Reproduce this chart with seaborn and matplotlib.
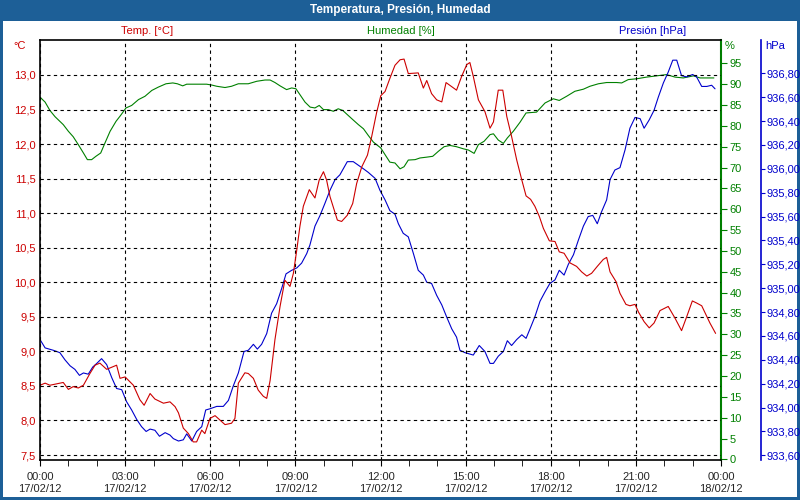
import matplotlib
matplotlib.use("Agg")
import matplotlib.pyplot as plt
import seaborn as sns
from matplotlib.patches import Rectangle
from matplotlib.ticker import FuncFormatter, MultipleLocator

# hours since 17/02/12 00:00
temp_h = [0.00, 0.18, 0.35, 0.59, 0.82, 1.00, 1.17, 1.35, 1.53, 1.76, 1.94, 2.11, 2.35, 2.70, 2.82,
          3.00, 3.29, 3.52, 3.67, 3.88, 4.05, 4.35, 4.58, 4.76, 4.88, 5.05, 5.23, 5.40, 5.52, 5.70,
          5.81, 5.99, 6.17, 6.52, 6.75, 6.87, 6.99, 7.22, 7.34, 7.52, 7.69, 7.87, 7.99, 8.11, 8.28,
          8.46, 8.63, 8.81, 8.93, 9.05, 9.16, 9.28, 9.49, 9.69, 9.84, 9.99, 10.10, 10.22, 10.48, 10.63,
          10.83, 11.02, 11.16, 11.34, 11.54, 11.69, 11.86, 12.01, 12.16, 12.33, 12.51, 12.69, 12.83,
          12.98, 13.33, 13.51, 13.63, 13.80, 13.98, 14.16, 14.31, 14.51, 14.68, 14.86, 15.04, 15.15,
          15.27, 15.45, 15.68, 15.86, 15.98, 16.15, 16.31, 16.45, 16.62, 16.80, 16.98, 17.13, 17.29,
          17.44, 17.60, 17.74, 17.95, 18.15, 18.30, 18.47, 18.68, 18.91, 19.09, 19.27, 19.44, 19.64,
          19.85, 19.97, 20.09, 20.30, 20.44, 20.65, 20.79, 20.97, 21.09, 21.29, 21.47, 21.64, 21.85,
          22.14, 22.38, 22.61, 22.79, 22.99, 23.14, 23.32, 23.61, 23.81]
temp_c = [8.51, 8.54, 8.51, 8.53, 8.55, 8.45, 8.49, 8.47, 8.51, 8.68, 8.80, 8.83, 8.74, 8.80, 8.61,
          8.63, 8.51, 8.30, 8.22, 8.39, 8.31, 8.25, 8.27, 8.20, 8.11, 7.89, 7.81, 7.69, 7.69, 7.86,
          7.81, 8.03, 8.07, 7.94, 7.96, 8.03, 8.54, 8.69, 8.68, 8.61, 8.44, 8.35, 8.32, 8.58, 9.17,
          9.65, 10.03, 9.94, 10.13, 10.47, 10.81, 11.10, 11.34, 11.22, 11.48, 11.60, 11.48, 11.24, 10.90, 10.88,
          10.97, 11.14, 11.43, 11.67, 11.84, 12.11, 12.45, 12.70, 12.76, 12.95, 13.14, 13.22, 13.23,
          13.02, 13.03, 12.81, 12.92, 12.73, 12.64, 12.61, 12.89, 12.83, 12.78, 12.98, 13.15, 13.18,
          12.98, 12.64, 12.47, 12.23, 12.32, 12.78, 12.78, 12.40, 12.11, 11.77, 11.48, 11.25, 11.20,
          11.10, 10.95, 10.78, 10.60, 10.59, 10.44, 10.42, 10.28, 10.23, 10.15, 10.09, 10.13, 10.23,
          10.33, 10.36, 10.15, 10.01, 9.84, 9.68, 9.66, 9.68, 9.57, 9.43, 9.34, 9.41, 9.59,
          9.65, 9.48, 9.30, 9.50, 9.73, 9.70, 9.66, 9.41, 9.26]

pres_h = [0.00, 0.18, 0.47, 0.70, 0.88, 1.06, 1.23, 1.39, 1.53, 1.70, 1.86, 2.00, 2.17, 2.35, 2.53,
          2.70, 2.88, 3.05, 3.23, 3.41, 3.58, 3.74, 3.88, 4.05, 4.21, 4.41, 4.58, 4.70, 4.88, 5.05,
          5.17, 5.35, 5.52, 5.70, 5.84, 5.99, 6.23, 6.46, 6.64, 6.81, 6.99, 7.19, 7.34, 7.52, 7.66,
          7.81, 7.99, 8.16, 8.34, 8.52, 8.67, 8.87, 9.05, 9.22, 9.40, 9.51, 9.69, 9.87, 10.04, 10.22,
          10.40, 10.57, 10.69, 10.83, 11.04, 11.22, 11.40, 11.57, 11.81, 11.98, 12.16, 12.33, 12.51,
          12.63, 12.80, 12.98, 13.16, 13.33, 13.51, 13.63, 13.80, 13.98, 14.16, 14.33, 14.51, 14.68,
          14.80, 14.98, 15.27, 15.48, 15.68, 15.86, 15.98, 16.15, 16.33, 16.47, 16.62, 16.80, 16.98,
          17.13, 17.27, 17.44, 17.62, 17.80, 17.97, 18.15, 18.30, 18.47, 18.62, 18.80, 18.97, 19.15,
          19.32, 19.48, 19.64, 19.79, 19.97, 20.09, 20.26, 20.44, 20.62, 20.79, 20.97, 21.15, 21.29,
          21.47, 21.64, 21.79, 21.97, 22.14, 22.30, 22.44, 22.61, 22.79, 23.00, 23.14, 23.32, 23.50,
          23.67, 23.79]
pres_hpa = [934.57, 934.50, 934.48, 934.46, 934.40, 934.35, 934.32, 934.27, 934.29, 934.28, 934.34,
            934.37, 934.41, 934.36, 934.25, 934.16, 934.15, 934.05, 933.98, 933.90, 933.84, 933.80,
            933.82, 933.81, 933.76, 933.79, 933.77, 933.74, 933.72, 933.73, 933.78, 933.72, 933.80,
            933.84, 933.98, 933.99, 934.01, 934.01, 934.06, 934.18, 934.29, 934.47, 934.48, 934.53,
            934.49, 934.53, 934.62, 934.79, 934.87, 935.00, 935.12, 935.15, 935.17, 935.21, 935.29,
            935.36, 935.52, 935.61, 935.71, 935.82, 935.91, 935.95, 936.00, 936.06, 936.06, 936.03,
            936.00, 935.97, 935.92, 935.82, 935.74, 935.65, 935.62, 935.54, 935.46, 935.43, 935.29,
            935.15, 935.11, 935.05, 935.04, 934.94, 934.86, 934.76, 934.66, 934.59, 934.48, 934.46,
            934.44, 934.52, 934.47, 934.37, 934.37, 934.43, 934.47, 934.56, 934.52, 934.57, 934.61,
            934.58, 934.66, 934.76, 934.89, 934.97, 935.04, 935.07, 935.15, 935.11, 935.20, 935.28,
            935.40, 935.52, 935.60, 935.61, 935.54, 935.64, 935.74, 935.91, 935.99, 936.01, 936.16,
            936.34, 936.43, 936.42, 936.34, 936.41, 936.49, 936.60, 936.72, 936.81, 936.91, 936.91,
            936.78, 936.77, 936.79, 936.77, 936.69, 936.69, 936.70, 936.67]

hum_h = [0.00, 0.18, 0.35, 0.53, 0.82, 1.00, 1.17, 1.35, 1.53, 1.67, 1.82, 1.97, 2.14, 2.29, 2.47,
         2.68, 2.84, 3.03, 3.23, 3.47, 3.70, 3.94, 4.17, 4.44, 4.68, 4.84, 5.03, 5.17, 5.52, 5.87,
         6.05, 6.23, 6.52, 6.75, 6.99, 7.34, 7.64, 7.93, 8.11, 8.28, 8.46, 8.69, 8.87, 9.02, 9.16,
         9.34, 9.52, 9.69, 9.84, 9.99, 10.16, 10.34, 10.51, 10.67, 10.83, 11.04, 11.22, 11.40, 11.57,
         11.75, 12.01, 12.16, 12.33, 12.51, 12.69, 12.83, 12.98, 13.22, 13.39, 13.63, 13.84, 14.04,
         14.24, 14.45, 14.68, 14.92, 15.10, 15.30, 15.45, 15.65, 15.86, 15.98, 16.15, 16.33, 16.47,
         16.68, 16.92, 17.13, 17.50, 17.80, 18.09, 18.30, 18.56, 18.85, 19.15, 19.38, 19.68, 19.97,
         20.32, 20.50, 20.73, 21.03, 21.38, 21.73, 22.08, 22.38, 22.67, 23.03, 23.26, 23.75]
hum_pct = [86.9, 85.7, 83.7, 82.2, 80.3, 78.7, 77.4, 75.5, 73.5, 71.9, 71.9, 72.7, 73.5, 75.9, 78.7,
           81.1, 82.5, 84.3, 84.9, 86.3, 87.1, 88.5, 89.3, 90.1, 90.3, 90.1, 89.6, 90.0, 90.0, 90.0,
           89.8, 89.5, 89.2, 89.5, 90.1, 90.1, 90.7, 91.0, 91.0, 90.4, 89.6, 88.7, 89.1, 88.9, 87.5,
           85.7, 84.5, 84.3, 84.9, 83.9, 83.9, 83.5, 84.1, 83.7, 82.7, 81.4, 80.3, 79.3, 77.7,
           76.1, 74.7, 73.1, 71.3, 71.1, 69.7, 70.2, 71.8, 71.9, 72.3, 72.5, 72.7, 73.9,
           75.0, 75.3, 75.0, 74.5, 74.2, 73.4, 75.5, 76.3, 77.9, 78.1, 76.6, 75.8, 77.1,
           78.7, 80.9, 83.1, 83.3, 85.5, 86.5, 86.1, 87.1, 88.3, 88.8, 89.5, 90.1, 90.4,
           90.4, 90.3, 91.1, 91.3, 91.7, 92.0, 92.3, 91.7, 91.5, 92.0, 91.5, 91.5]

x_ticks = [0, 3, 6, 9, 12, 15, 18, 21, 24]
x_labels = ["00:00\n17/02/12", "03:00\n17/02/12", "06:00\n17/02/12", "09:00\n17/02/12",
            "12:00\n17/02/12", "15:00\n17/02/12", "18:00\n17/02/12", "21:00\n17/02/12",
            "00:00\n18/02/12"]

RED = "#cc0000"
GREEN = "#008000"
BLUE = "#0000cc"
FRAME = "#1d5f97"

sns.set_style("white")
plt.rcParams["font.family"] = ["Liberation Sans", "DejaVu Sans"]
plt.rcParams["font.size"] = 8

fig = plt.figure(figsize=(8, 5), dpi=100, facecolor=FRAME)
fig.patches.append(Rectangle((3 / 800, 3 / 500), 794 / 800, 476 / 500, transform=fig.transFigure,
                             facecolor="white", edgecolor="none", zorder=-5))
fig.text(0.5, 1 - 10 / 500, "Temperatura, Presión, Humedad", color="white", fontweight="bold",
         ha="center", va="center", fontsize=8.5)

ax = fig.add_axes([40 / 800, 40 / 500, 681 / 800, 420 / 500])
ax_h = ax.twinx()
ax_p = ax.twinx()

sns.lineplot(x=hum_h, y=hum_pct, ax=ax_h, color=GREEN, linewidth=0.8, estimator=None, sort=False)
sns.lineplot(x=pres_h, y=pres_hpa, ax=ax_p, color=BLUE, linewidth=0.8, estimator=None, sort=False)
sns.lineplot(x=temp_h, y=temp_c, ax=ax, color=RED, linewidth=0.8, estimator=None, sort=False)
ax.set_zorder(3)
ax_h.set_zorder(1)
ax_p.set_zorder(2)
ax.patch.set_visible(False)
ax_h.patch.set_visible(False)
ax_p.patch.set_visible(False)

ax.set_xlim(0, 24)
ax.set_ylim(7.428, 13.506)
ax_h.set_ylim(-0.15, 100.6)
ax_p.set_ylim(933.561, 937.079)

# temperature axis (left)
ax.set_yticks([7.5 + 0.5 * i for i in range(12)])
ax.yaxis.set_major_formatter(FuncFormatter(lambda v, p: f"{v:.1f}".replace(".", ",")))
ax.tick_params(axis="y", length=0, pad=3, labelcolor=RED, labelsize=8)
ax.set_xticks(x_ticks)
ax.set_xticklabels(x_labels)
ax.xaxis.set_minor_locator(MultipleLocator(1))
ax.tick_params(axis="x", which="both", direction="out", length=4, color="black",
               labelsize=8, pad=5, bottom=True)
ax.set_xlabel("")
ax.set_ylabel("")
ax.grid(True, which="major", axis="both", color="black", linestyle=(0, (3, 3)), linewidth=0.8)
for s in ["left", "bottom", "top"]:
    ax.spines[s].set_color("black")
    ax.spines[s].set_linewidth(1.2)
ax.spines["right"].set_visible(False)

# humidity axis (right)
ax_h.set_yticks(list(range(0, 100, 5)))
ax_h.tick_params(axis="y", direction="out", length=4, color=GREEN, labelcolor=GREEN,
                 labelsize=8, pad=2, right=True)
ax_h.spines["right"].set_color(GREEN)
ax_h.spines["right"].set_linewidth(1.5)
for s in ["left", "top", "bottom"]:
    ax_h.spines[s].set_visible(False)
ax_h.set_ylabel("")

# pressure axis (far right)
ax_p.spines["right"].set_position(("axes", 1 + 40 / 681))
ax_p.set_yticks([933.6 + 0.2 * i for i in range(17)])
ax_p.yaxis.set_major_formatter(FuncFormatter(lambda v, p: f"{v:.2f}".replace(".", ",")))
ax_p.tick_params(axis="y", direction="out", length=3, color=BLUE, labelcolor=BLUE,
                 labelsize=8, pad=1, right=True)
ax_p.spines["right"].set_color(BLUE)
ax_p.spines["right"].set_linewidth(1.2)
for s in ["left", "top", "bottom"]:
    ax_p.spines[s].set_visible(False)
ax_p.set_ylabel("")

# unit and series labels
fig.text(20 / 800, 1 - 46 / 500, "°C", color=RED, ha="center", va="center", fontsize=8)
fig.text(730 / 800, 1 - 46 / 500, "%", color=GREEN, ha="center", va="center", fontsize=8)
fig.text(775 / 800, 1 - 46 / 500, "hPa", color=BLUE, ha="center", va="center", fontsize=8)
fig.text(147 / 800, 1 - 31 / 500, "Temp. [°C]", color=RED, ha="center", va="center", fontsize=8)
fig.text(401 / 800, 1 - 31 / 500, "Humedad [%]", color=GREEN, ha="center", va="center", fontsize=8)
fig.text(653 / 800, 1 - 31 / 500, "Presión [hPa]", color=BLUE, ha="center", va="center", fontsize=8)

fig.savefig("out.png", dpi=100, facecolor=FRAME)
